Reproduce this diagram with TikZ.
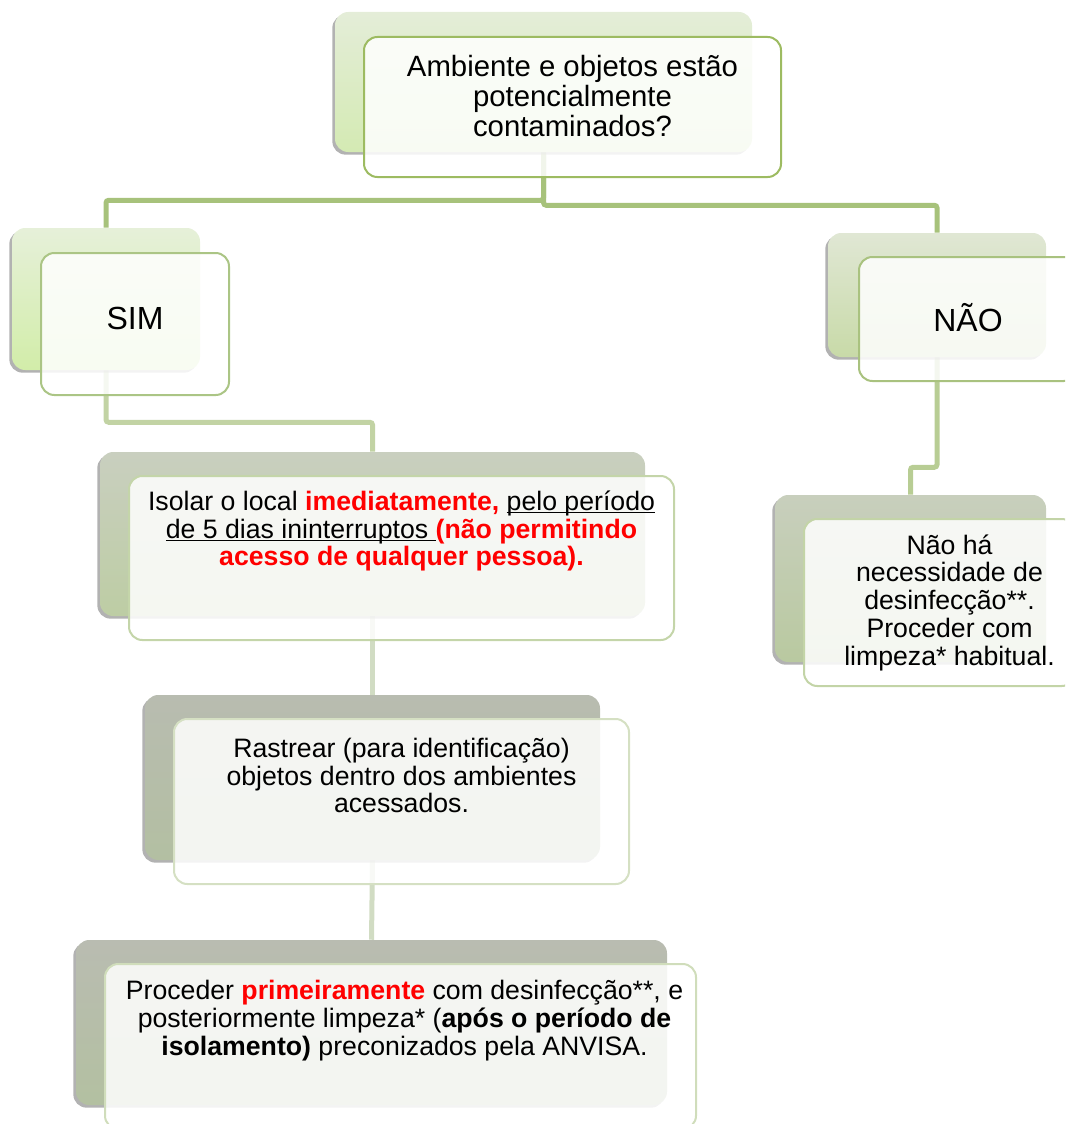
\documentclass[tikz,border=0pt]{standalone}
\usepackage{fontspec}
\setmainfont{Liberation Sans}
\usetikzlibrary{calc}
\usetikzlibrary{positioning}
\usetikzlibrary{shadows}
\usetikzlibrary{backgrounds}

\newcommand{\pxu}{0.75pt}
\newcommand{\sublinha}[1]{\setbox0\hbox{#1}\rlap{\rule[-2.2pt]{\wd0}{0.9pt}}\box0}
\definecolor{alerta}{HTML}{FF0000}
% panels: top / bottom
\definecolor{pergA}{HTML}{E4EDD8}\definecolor{pergB}{HTML}{D4EAB3}
\definecolor{simA}{HTML}{E6F0D9}\definecolor{simB}{HTML}{D2EDA9}
\definecolor{naoA}{HTML}{E0E7D4}\definecolor{naoB}{HTML}{C8DAA8}
\definecolor{naohaA}{HTML}{C8CFBD}\definecolor{naohaB}{HTML}{B9C9A0}
\definecolor{isolarA}{HTML}{C9CFBF}\definecolor{isolarB}{HTML}{BDCDA4}
\definecolor{rastA}{HTML}{B8BCB0}\definecolor{rastB}{HTML}{B3BFA2}
\definecolor{procA}{HTML}{B9BCB1}\definecolor{procB}{HTML}{B3C0A1}
% frames
\definecolor{pergL}{HTML}{9DBB61}
\definecolor{simL}{HTML}{ABC585}
\definecolor{naoL}{HTML}{A9C27F}
\definecolor{naohaL}{HTML}{C3D4A7}
\definecolor{isolarL}{HTML}{C4D5A9}
\definecolor{rastL}{HTML}{D5E0C3}
\definecolor{procL}{HTML}{D0DDBB}
% links
\definecolor{ramoA}{HTML}{A7C27B}
\definecolor{ramoB}{HTML}{C2D3A4}
\definecolor{ramoC}{HTML}{B8CD94}
\definecolor{ramoD}{HTML}{D1DCC3}

\tikzset{
  back/.style 2 args={rectangle, rounded corners=10pt, inner sep=0pt,
    top color=#1, bottom color=#2,
    drop shadow={shadow xshift=-2pt, shadow yshift=-2pt, fill=black!55, opacity=.55}},
  front/.style={rectangle, rounded corners=10pt, inner sep=0pt, draw=#1,
    line width=1.5pt, fill=white, fill opacity=.85},
  txt/.style={align=center, inner sep=0pt, font=\fontsize{20}{20.8}\selectfont},
  bigtxt/.style={align=center, inner sep=0pt, font=\fontsize{22}{22.6}\selectfont},
  answer/.style={inner sep=0pt, font=\fontsize{24}{24}\selectfont},
  link/.style={draw=#1, line width=3.75pt, rounded corners=2pt}
}

\begin{document}
\begin{tikzpicture}[x=0.75pt, y=-0.75pt]
    \useasboundingbox (0,0) rectangle (1065,1124);
    \clip (0,0) rectangle (1065,1124);

    % question
    \node[back={pergA}{pergB}, minimum width=417*\pxu, minimum height=140*\pxu] (topback) at (543.5,82) {};
    \node[front=pergL, minimum width=417*\pxu, minimum height=140*\pxu] (top) at ($(topback)+(29,25)$) {};
    \node[bigtxt] (toptext) at ($(top)+(0,-11)$) {Ambiente e objetos estão\\potencialmente\\contaminados?};

    % answers
    \node[back={simA}{simB}, minimum width=188*\pxu, minimum height=142*\pxu] (simback) at (106,299) {};
    \node[front=simL, minimum width=188*\pxu, minimum height=142*\pxu] (sim) at ($(simback)+(29,25)$) {};
    \node[answer] (simtext) at ($(sim)+(0,-6)$) {SIM};

    \node[back={naoA}{naoB}, minimum width=218*\pxu, minimum height=124*\pxu] (naoback) at (937,295) {};
    \node[front=naoL, minimum width=218*\pxu, minimum height=124*\pxu] (nao) at ($(naoback)+(31,24)$) {};
    \node[answer] (naotext) at ($(nao)+(0,-1)$) {NÃO};

    \node[back={naohaA}{naohaB}, minimum width=271*\pxu, minimum height=167*\pxu] (naohaback) at (910.5,578.5) {};
    \node[front=naohaL, minimum width=271*\pxu, minimum height=167*\pxu] (naoha) at ($(naohaback)+(29,24)$) {};
    \node[txt] (naohatext) at ($(naoha)+(10,0)$) {Não há\\necessidade de\\desinfecção**.\\Proceder com\\limpeza* habitual.};

    % steps
    \node[back={isolarA}{isolarB}, minimum width=545*\pxu, minimum height=164*\pxu] (isolarback) at (372.5,534) {};
    \node[front=isolarL, minimum width=545*\pxu, minimum height=164*\pxu] (isolar) at ($(isolarback)+(29,24)$) {};
    \node[txt] (isolartext) at ($(isolar)+(0,-27)$) {Isolar o local \textcolor{alerta}{\textbf{imediatamente,}} \sublinha{pelo período}\\\sublinha{de 5 dias ininterruptos }\textcolor{alerta}{\textbf{(não permitindo}}\\\textcolor{alerta}{\textbf{acesso de qualquer pessoa).}}};

    \node[back={rastA}{rastB}, minimum width=455*\pxu, minimum height=165*\pxu] (rastback) at (372.5,777.5) {};
    \node[front=rastL, minimum width=455*\pxu, minimum height=165*\pxu] (rast) at ($(rastback)+(29,24)$) {};
    \node[txt] (rasttext) at ($(rast)+(0,-26)$) {Rastrear (para identificação)\\objetos dentro dos ambientes\\acessados.};

    \node[back={procA}{procB}, minimum width=591*\pxu, minimum height=165*\pxu] (procback) at (371.5,1022.5) {};
    \node[front=procL, minimum width=591*\pxu, minimum height=165*\pxu] (proc) at ($(procback)+(29,24)$) {};
    \node[txt] (proctext) at ($(proc)+(4,-26)$) {Proceder \textcolor{alerta}{\textbf{primeiramente}} com desinfecção**, e\\posteriormente limpeza* (\textbf{após o período de}\\\textbf{isolamento)} preconizados pela ANVISA.};

    \begin{scope}[on background layer]
    \draw[link=ramoA] (topback.south) -- ++(0,48) -| (simback.north);
    \draw[link=ramoA] (topback.south) -- ++(0,53) -| (naoback.north);
    \draw[link=ramoB] (simback.south) -- ++(0,52) -| (isolarback.north);
    \draw[link=ramoD] (isolarback.south) -- (rastback.north);
    \draw[link=ramoD] (rastback.south) -- (procback.north);
    \draw[link=ramoC] (naoback.south) -- ++(0,110) -| (naohaback.north);
    \end{scope}
\end{tikzpicture}
\end{document}
